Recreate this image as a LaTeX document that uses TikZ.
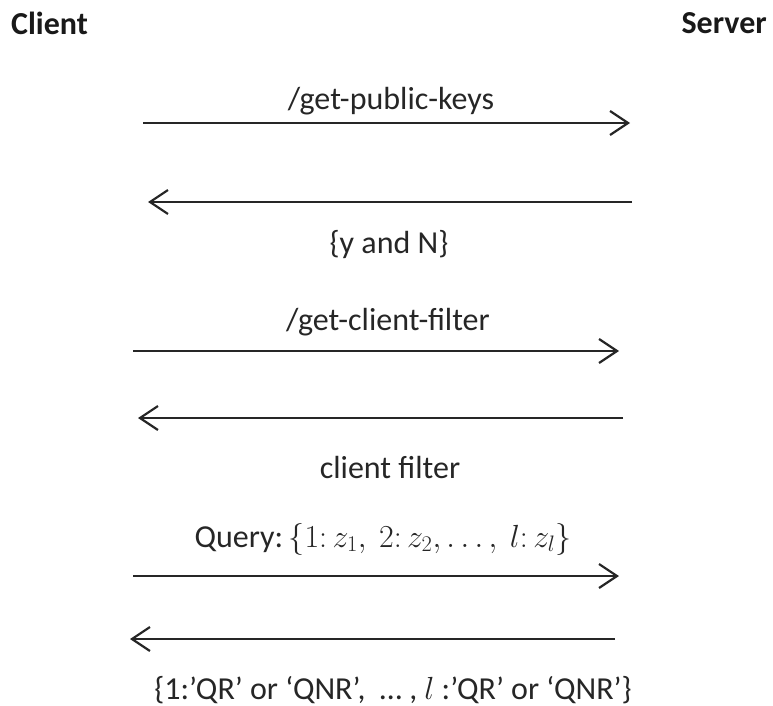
\documentclass[tikz,border=0pt]{standalone}
\usepackage{fix-cm}
\usepackage{fontspec}
\setmainfont{Carlito}
\usetikzlibrary{arrows.meta}
\begin{document}
\begin{tikzpicture}[x=1pt,y=1pt,
  lbl/.style={inner sep=0pt,font=\fontsize{32}{38}\selectfont,text=black!85},
  head/.style={inner sep=0pt,font=\fontsize{32}{38}\selectfont\bfseries,text=black!90},
  msg/.style={line width=2.2pt,draw=black!85,-{Straight Barb[length=18pt,width=24pt,line width=2.2pt]}}]
\useasboundingbox (0,0) rectangle (773,-706);
\node[head,anchor=west] (client) at (11,-23) {Client};
\node[head,anchor=east] (server) at (767,-23) {Server};
% arrow endpoints
\coordinate (a1s) at (143,-123); \coordinate (a1e) at (630,-123);
\coordinate (a2s) at (632,-202); \coordinate (a2e) at (148,-202);
\coordinate (a3s) at (133,-351); \coordinate (a3e) at (619,-351);
\coordinate (a4s) at (623,-418); \coordinate (a4e) at (138,-418);
\coordinate (a5s) at (133,-576); \coordinate (a5e) at (619,-576);
\coordinate (a6s) at (615,-639); \coordinate (a6e) at (130,-639);
\draw[msg] (a1s) -- (a1e);
\draw[msg] (a2s) -- (a2e);
\draw[msg] (a3s) -- (a3e);
\draw[msg] (a4s) -- (a4e);
\draw[msg] (a5s) -- (a5e);
\draw[msg] (a6s) -- (a6e);
\node[lbl] (m1) at (391,-101) {/get-public-keys};
\node[lbl] (m2) at (389,-245) {\{y and N\}};
\node[lbl] (m3) at (388,-322) {/get-client-filter};
\node[lbl] (m4) at (390,-468) {client filter};
\node[lbl] (m5) at (383,-539) {Query:\,$\{1\colon z_1,\ 2\colon z_2,\ldots,\ l\colon z_l\}$};
\node[lbl] (m6) at (393,-690) {\{1:’QR’ or ‘QNR’,\ \ …\ ,\ $l$\ :’QR’ or ‘QNR’\}};
\end{tikzpicture}
\end{document}
